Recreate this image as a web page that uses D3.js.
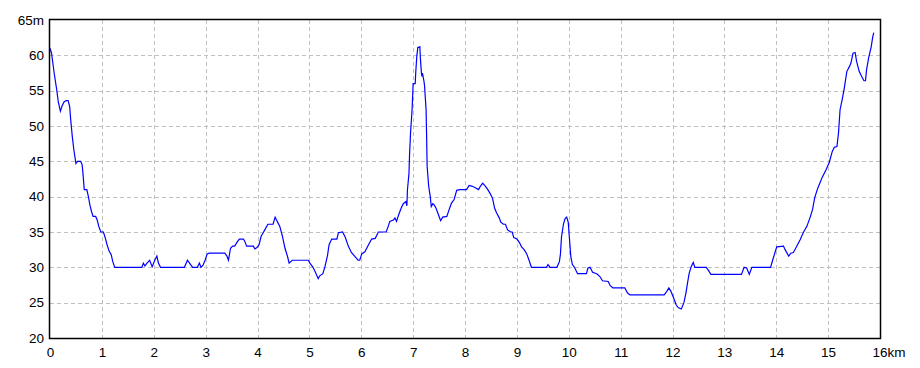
<!DOCTYPE html>
<html>
<head>
<meta charset="utf-8">
<script src="https://cdn.jsdelivr.net/npm/d3@7"></script>
<style>
  html, body { margin: 0; padding: 0; background: #fff; }
  svg { display: block; }
  .tick text { font-family: "Liberation Sans", Arial, sans-serif; font-size: 13.5px; fill: #000; }
</style>
</head>
<body>
<svg id="chart" width="920" height="368"></svg>
<script>
// Distance along the route (km)
const distKm = [
  0, 0.03, 0.08, 0.13, 0.16, 0.20, 0.23, 0.27, 0.31, 0.35, 0.38, 0.40, 0.43, 0.46, 0.50, 0.53, 0.59, 0.62, 0.64, 0.66,
  0.71, 0.74, 0.77, 0.80, 0.83, 0.88, 0.91, 0.94, 0.98, 1.03, 1.06, 1.10, 1.14, 1.18, 1.21, 1.25, 1.77, 1.80, 1.83, 1.87,
  1.92, 1.97, 2.02, 2.06, 2.09, 2.13, 2.59, 2.65, 2.70, 2.75, 2.84, 2.88, 2.91, 2.95, 2.99, 3.03, 3.07, 3.37, 3.41, 3.44,
  3.48, 3.52, 3.56, 3.61, 3.65, 3.73, 3.76, 3.79, 3.92, 3.95, 3.99, 4.03, 4.07, 4.11, 4.14, 4.20, 4.30, 4.34, 4.38, 4.43,
  4.48, 4.53, 4.58, 4.61, 4.67, 4.98, 5.01, 5.07, 5.11, 5.17, 5.20, 5.26, 5.30, 5.35, 5.38, 5.43, 5.53, 5.56, 5.64, 5.69,
  5.75, 5.81, 5.88, 5.94, 5.97, 6.01, 6.07, 6.14, 6.20, 6.27, 6.33, 6.48, 6.52, 6.55, 6.62, 6.65, 6.68, 6.72, 6.77, 6.81,
  6.86, 6.88, 6.89, 6.92, 6.93, 6.95, 6.98, 7.00, 7.04, 7.05, 7.07, 7.09, 7.13, 7.14, 7.16, 7.17, 7.18, 7.21, 7.22, 7.25,
  7.26, 7.27, 7.30, 7.33, 7.35, 7.38, 7.40, 7.44, 7.49, 7.53, 7.57, 7.65, 7.70, 7.74, 7.79, 7.84, 7.90, 8.03, 8.08, 8.13,
  8.19, 8.26, 8.29, 8.34, 8.38, 8.44, 8.48, 8.53, 8.57, 8.61, 8.66, 8.69, 8.74, 8.78, 8.82, 8.88, 8.91, 8.94, 9.00, 9.05,
  9.09, 9.14, 9.19, 9.24, 9.28, 9.57, 9.60, 9.64, 9.77, 9.82, 9.84, 9.86, 9.90, 9.93, 9.96, 9.99, 10.01, 10.04, 10.07, 10.11,
  10.17, 10.34, 10.37, 10.41, 10.46, 10.54, 10.60, 10.65, 10.76, 10.80, 10.85, 11.08, 11.13, 11.18, 11.84, 11.89, 11.93, 11.97, 12.02, 12.07,
  12.11, 12.17, 12.22, 12.26, 12.29, 12.32, 12.36, 12.40, 12.43, 12.65, 12.69, 12.74, 13.33, 13.38, 13.43, 13.48, 13.53, 13.89, 13.93, 13.98,
  14.01, 14.14, 14.17, 14.24, 14.28, 14.33, 14.39, 14.46, 14.52, 14.59, 14.65, 14.70, 14.74, 14.79, 14.84, 14.89, 14.96, 15.02, 15.08, 15.12,
  15.17, 15.20, 15.23, 15.27, 15.31, 15.36, 15.41, 15.44, 15.48, 15.52, 15.55, 15.60, 15.64, 15.69, 15.72, 15.74, 15.78, 15.83, 15.86, 15.88
];
// Elevation (m)
const elevM = [
  61.0, 60.3, 57.5, 55.1, 53.4, 52.1, 52.8, 53.4, 53.6, 53.6, 52.7, 50.8, 48.5, 46.6, 44.7, 45.0, 45.0, 44.5, 42.9, 41.0,
  41.0, 40.0, 38.8, 37.9, 37.2, 37.2, 36.7, 35.8, 35.0, 35.0, 34.3, 33.2, 32.3, 31.8, 30.8, 30.0, 30.0, 30.6, 30.2, 30.6,
  31.0, 30.1, 31.0, 31.6, 30.6, 30.0, 30.0, 31.0, 30.5, 30.0, 30.0, 30.6, 30.0, 30.3, 31.0, 31.9, 32.0, 32.0, 31.6, 31.0,
  32.7, 33.0, 33.0, 33.6, 34.0, 34.0, 33.6, 33.0, 33.0, 32.6, 32.8, 33.2, 34.4, 34.9, 35.3, 36.1, 36.1, 37.1, 36.5, 35.8,
  34.4, 32.7, 31.5, 30.6, 31.0, 31.0, 30.6, 30.0, 29.4, 28.4, 28.8, 29.1, 30.1, 31.7, 33.2, 34.0, 34.0, 34.9, 35.0, 34.3,
  33.0, 32.1, 31.5, 31.0, 31.0, 31.9, 32.2, 33.2, 34.0, 34.1, 35.0, 35.0, 35.8, 36.5, 36.7, 37.0, 36.5, 37.4, 38.4, 39.0,
  39.3, 38.7, 40.9, 43.3, 45.7, 49.0, 52.3, 56.0, 56.0, 57.5, 59.8, 61.1, 61.2, 59.6, 57.5, 57.0, 57.5, 56.3, 55.7, 52.3,
  48.5, 44.3, 41.5, 40.0, 38.6, 39.0, 38.9, 38.4, 37.4, 36.6, 37.1, 37.2, 38.3, 39.1, 39.6, 40.9, 41.0, 41.0, 41.6, 41.5,
  41.3, 41.0, 41.4, 41.9, 41.6, 41.0, 40.5, 39.8, 38.4, 37.7, 37.0, 36.4, 36.1, 36.1, 35.3, 35.0, 35.0, 34.2, 34.0, 33.5,
  32.9, 32.5, 31.9, 30.9, 30.0, 30.0, 30.4, 30.0, 30.0, 30.8, 31.9, 34.3, 36.2, 36.9, 37.1, 36.4, 34.4, 31.5, 30.4, 30.0,
  29.1, 29.1, 29.9, 30.0, 29.3, 29.1, 28.7, 28.1, 28.0, 27.4, 27.1, 27.1, 26.4, 26.1, 26.1, 26.6, 27.1, 26.6, 25.7, 24.7,
  24.3, 24.1, 25.0, 26.4, 27.8, 29.1, 30.1, 30.7, 30.0, 30.0, 29.6, 29.0, 29.0, 30.0, 29.9, 29.0, 30.0, 30.0, 31.0, 32.2,
  32.9, 33.0, 32.5, 31.6, 32.0, 32.1, 32.9, 33.9, 34.9, 35.8, 37.0, 38.2, 39.8, 41.0, 41.9, 42.8, 43.8, 44.8, 46.4, 47.0,
  47.1, 49.0, 52.3, 53.7, 55.3, 57.7, 58.4, 58.9, 60.3, 60.4, 59.1, 57.7, 57.1, 56.4, 56.4, 57.9, 59.6, 61.2, 62.6, 63.2
];
// Axis ticks
const xTicks = [0, 1, 2, 3, 4, 5, 6, 7, 8, 9, 10, 11, 12, 13, 14, 15, 16];
const yTicks = [20, 25, 30, 35, 40, 45, 50, 55, 60, 65];
const xUnit = "km";
const yUnit = "m";

const svg = d3.select("#chart");
const plotL = 50, plotR = 880, plotT = 20, plotB = 338;

const x = d3.scaleLinear().domain([0, 16]).range([plotL, plotR]);
const y = d3.scaleLinear().domain([20, 65]).range([plotB, plotT]);

// grid lines (vertical)
svg.append("g")
  .selectAll("line")
  .data(xTicks.slice(1, -1))
  .join("line")
  .attr("x1", d => Math.round(x(d)) + 0.5)
  .attr("x2", d => Math.round(x(d)) + 0.5)
  .attr("y1", plotT)
  .attr("y2", plotB)
  .attr("stroke", "#c0c0c0")
  .attr("stroke-width", 1)
  .attr("stroke-dasharray", "4,3");

// grid lines (horizontal)
svg.append("g")
  .selectAll("line")
  .data(yTicks.slice(1, -1))
  .join("line")
  .attr("x1", plotL)
  .attr("x2", plotR)
  .attr("y1", d => Math.round(y(d)) + 0.5)
  .attr("y2", d => Math.round(y(d)) + 0.5)
  .attr("stroke", "#c0c0c0")
  .attr("stroke-width", 1)
  .attr("stroke-dasharray", "4,3");

// axes (labels only)
const xAxis = d3.axisBottom(x)
  .tickValues(xTicks)
  .tickSize(0)
  .tickPadding(9)
  .tickFormat(d => d === 16 ? d + xUnit : d);
const gx = svg.append("g").attr("transform", `translate(0,${plotB})`).call(xAxis);
gx.select(".domain").remove();
gx.selectAll(".tick text").filter(d => d === 16)
  .attr("text-anchor", "start")
  .attr("x", -8);

const yAxis = d3.axisLeft(y)
  .tickValues(yTicks)
  .tickSize(0)
  .tickPadding(6)
  .tickFormat(d => d === 65 ? d + yUnit : d);
const gy = svg.append("g").attr("transform", `translate(${plotL},0)`).call(yAxis);
gy.select(".domain").remove();

// profile line
const line = d3.line()
  .x((d, i) => x(distKm[i]))
  .y((d, i) => y(elevM[i]));
svg.append("path")
  .datum(elevM)
  .attr("d", line)
  .attr("fill", "none")
  .attr("stroke", "#0000ff")
  .attr("stroke-width", 1.2)
  .attr("stroke-linejoin", "miter");

// frame
svg.append("rect")
  .attr("x", plotL - 0.5)
  .attr("y", plotT - 0.5)
  .attr("width", plotR - plotL + 1)
  .attr("height", plotB - plotT + 1)
  .attr("fill", "none")
  .attr("stroke", "#000")
  .attr("stroke-width", 1.5);
</script>
</body>
</html>
